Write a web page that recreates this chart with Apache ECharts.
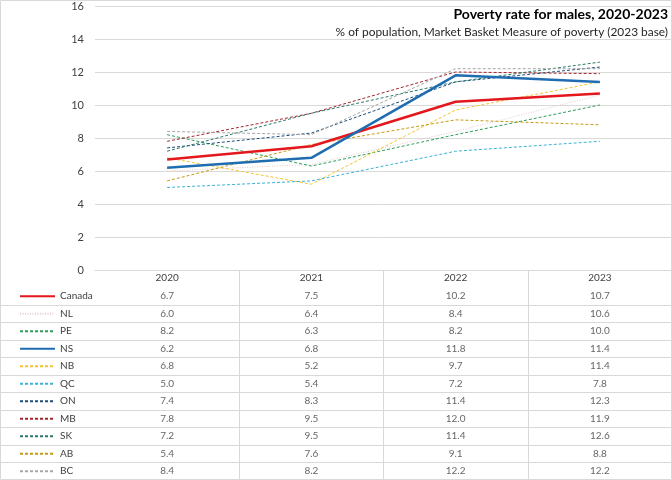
<!DOCTYPE html>
<html>
<head>
<meta charset="utf-8">
<script src="https://cdn.jsdelivr.net/npm/echarts@6/dist/echarts.min.js"></script>
<style>
html,body{margin:0;padding:0;background:#fff;}
#chart{width:672px;height:480px;}
</style>
</head>
<body>
<div id="chart"></div>
<script>
// ---- data ----
const years = ['2020', '2021', '2022', '2023'];
const regions = ['Canada', 'NL', 'PE', 'NS', 'NB', 'QC', 'ON', 'MB', 'SK', 'AB', 'BC'];
const canada = [6.7, 7.5, 10.2, 10.7];
const nl = [6.0, 6.4, 8.4, 10.6];
const pe = [8.2, 6.3, 8.2, 10.0];
const ns = [6.2, 6.8, 11.8, 11.4];
const nb = [6.8, 5.2, 9.7, 11.4];
const qc = [5.0, 5.4, 7.2, 7.8];
const on = [7.4, 8.3, 11.4, 12.3];
const mb = [7.8, 9.5, 12.0, 11.9];
const sk = [7.2, 9.5, 11.4, 12.6];
const ab = [5.4, 7.6, 9.1, 8.8];
const bc = [8.4, 8.2, 12.2, 12.2];
const yTicks = [0, 2, 4, 6, 8, 10, 12, 14, 16];
const titleText = 'Poverty rate for males, 2020-2023';
const subtitleText = '% of population, Market Basket Measure of poverty (2023 base)';

const values = [canada, nl, pe, ns, nb, qc, on, mb, sk, ab, bc];
const styles = [
  {color: '#e3171c', width: 2.5, type: 'solid'},
  {color: '#e2cccc', width: 1, type: [1, 1.5]},
  {color: '#2e9e5b', width: 1, type: [3, 2]},
  {color: '#1f6db0', width: 2.5, type: 'solid'},
  {color: '#f4c430', width: 1, type: [3, 2]},
  {color: '#3bb3d9', width: 1, type: [3, 2]},
  {color: '#1f4e79', width: 1, type: [3, 2]},
  {color: '#a5262c', width: 1, type: [3, 2]},
  {color: '#2a7a6c', width: 1, type: [3, 2]},
  {color: '#c79a16', width: 1, type: [3, 2]},
  {color: '#a6a6a6', width: 1, type: [3, 2]}
];

const FONT = 'Lato';
const tableRows = [''].concat(regions);
const gridColor = '#d9d9d9';
const textColor = '#404040';

const lineSeries = regions.map((name, i) => ({
  name: name,
  type: 'line',
  xAxisIndex: 0,
  yAxisIndex: 0,
  data: values[i],
  symbol: 'none',
  showSymbol: false,
  z: (name === 'Canada' || name === 'NS') ? 4 : 2,
  lineStyle: {color: styles[i].color, width: styles[i].width, type: styles[i].type},
  itemStyle: {color: styles[i].color},
  emphasis: {disabled: true}
}));

const tableData = [];
regions.forEach((name, r) => {
  values[r].forEach((v, c) => { tableData.push([c, r + 1, v]); });
});

const chart = echarts.init(document.getElementById('chart'), null, {renderer: 'canvas'});
chart.setOption({
  animation: false,
  backgroundColor: '#fff',
  textStyle: {fontFamily: FONT},
  title: [
    {
      text: titleText,
      right: 4,
      top: 7,
      padding: 0,
      textStyle: {fontFamily: FONT, fontSize: 14, fontWeight: 'bold', color: '#000'}
    },
    {
      text: subtitleText,
      right: 4,
      top: 26,
      padding: 0,
      textStyle: {fontFamily: FONT, fontSize: 11.9, fontWeight: 'normal', color: '#262626'}
    }
  ],
  legend: {
    orient: 'vertical',
    left: 19,
    top: 289.25,
    padding: 0,
    itemWidth: 35,
    itemHeight: 14,
    itemGap: 3.5,
    data: regions,
    selectedMode: false,
    itemStyle: {opacity: 0, borderWidth: 0},
    textStyle: {fontFamily: FONT, fontSize: 10, color: textColor, lineHeight: 14}
  },
  grid: [
    {left: 95, right: 0, top: 6, bottom: 210, containLabel: false},
    {left: 95, right: 0, top: 270, bottom: 0, containLabel: false},
    {left: 0, width: 95, top: 270, bottom: 0, containLabel: false}
  ],
  xAxis: [
    {
      type: 'category', gridIndex: 0, data: years, boundaryGap: true,
      axisLine: {show: true, lineStyle: {color: gridColor}},
      axisTick: {show: false},
      axisLabel: {fontFamily: FONT, fontSize: 10, color: textColor, margin: 3}
    },
    {
      type: 'category', gridIndex: 1, data: years, boundaryGap: true,
      axisLine: {show: false}, axisTick: {show: false}, axisLabel: {show: false},
      splitLine: {show: true, interval: (idx) => idx > 0, lineStyle: {color: gridColor}}
    },
    {
      type: 'value', gridIndex: 2, min: 0, max: 1, show: false
    }
  ],
  yAxis: [
    {
      type: 'value', gridIndex: 0, min: yTicks[0], max: yTicks[yTicks.length - 1], interval: 2,
      axisLine: {show: false}, axisTick: {show: false},
      axisLabel: {fontFamily: FONT, fontSize: 11, color: textColor, margin: 11},
      splitLine: {show: true, lineStyle: {color: gridColor}}
    },
    {
      type: 'category', gridIndex: 1, data: tableRows, inverse: true, boundaryGap: true,
      axisLine: {show: false}, axisTick: {show: false}, axisLabel: {show: false},
      splitLine: {show: true, interval: (idx) => idx > 1, lineStyle: {color: gridColor}}
    },
    {
      type: 'category', gridIndex: 2, data: tableRows, inverse: true, boundaryGap: true,
      axisLine: {show: false}, axisTick: {show: false}, axisLabel: {show: false},
      splitLine: {show: true, interval: (idx) => idx > 1, lineStyle: {color: gridColor}}
    }
  ],
  series: lineSeries.concat([{
    name: 'table',
    type: 'scatter',
    xAxisIndex: 1,
    yAxisIndex: 1,
    data: tableData,
    symbolSize: 0.1,
    itemStyle: {color: 'rgba(0,0,0,0)'},
    silent: true,
    label: {
      show: true,
      position: 'inside',
      fontFamily: FONT,
      fontSize: 10,
      color: textColor,
      formatter: (p) => p.value[2].toFixed(1)
    }
  }]),
  graphic: [{
    type: 'rect',
    shape: {x: 0.5, y: 0.5, width: 671, height: 479},
    style: {fill: 'none', stroke: gridColor, lineWidth: 1},
    silent: true,
    z: 100
  }]
});
</script>
</body>
</html>
